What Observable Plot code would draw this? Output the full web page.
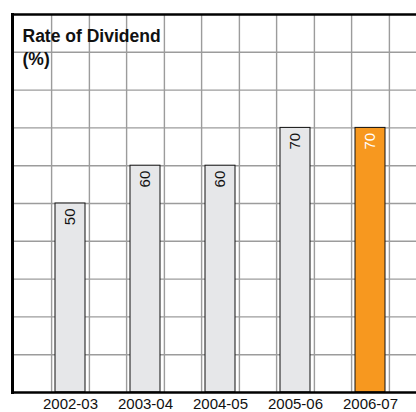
<!DOCTYPE html>
<html>
<head>
<meta charset="utf-8">
<script src="https://cdn.jsdelivr.net/npm/d3@7"></script>
<script src="https://cdn.jsdelivr.net/npm/@observablehq/plot@0.6"></script>
<style>
  html, body { margin: 0; padding: 0; background: #fff; }
  #chart svg { display: block; }
</style>
</head>
<body>
<div id="chart"></div>
<script>
const years = ["2002-03", "2003-04", "2004-05", "2005-06", "2006-07"];
const dividends = [50, 60, 60, 70, 70];
const highlight = [false, false, false, false, true];
const gridValues = [10, 20, 30, 40, 50, 60, 70, 80, 90];
const title = "Rate of Dividend\n(%)";

const data = years.map((y, i) => ({year: y, value: dividends[i], hi: highlight[i]}));

const font = "'Liberation Sans', Arial, Helvetica, sans-serif";
const gridColor = "#9c9c9c";

const chart = Plot.plot({
  width: 416,
  height: 412,
  marginTop: 14,
  marginBottom: 20,
  marginLeft: 12,
  marginRight: 0,
  style: {fontFamily: font, background: "#fff", overflow: "visible"},
  x: {type: "band", domain: years, range: [31.2, 409.2], paddingInner: 0.597, paddingOuter: 0.2985, align: 0.5, axis: null},
  y: {domain: [0, 100], axis: null},
  marks: [
    Plot.ruleY(gridValues, {stroke: gridColor, strokeWidth: 1.4}),
    Plot.ruleX(years, {x: d => d, dx: -18.9, stroke: gridColor, strokeWidth: 1.4}),
    Plot.ruleX(years, {x: d => d, dx: 18.9, stroke: gridColor, strokeWidth: 1.4}),
    Plot.barY(data, {x: "year", y: "value", fill: d => d.hi ? "#f7981f" : "#e6e7e9", stroke: "#111", strokeWidth: 1}),
    Plot.text(data, {x: "year", y: "value", text: d => String(d.value), rotate: -90, textAnchor: "end", dy: 5, fontSize: 15, fill: d => d.hi ? "#fff" : "#111"}),
    Plot.ruleY([100], {stroke: "#000", strokeWidth: 2.6}),
    Plot.ruleY([0], {stroke: "#000", strokeWidth: 2.6}),
    Plot.frame({anchor: "left", stroke: "#000", strokeWidth: 3}),
    Plot.text([title], {frameAnchor: "top-left", dx: 10, dy: 10.5, lineAnchor: "top", lineHeight: 1.35, fontSize: 17.5, fontWeight: "bold", fill: "#111"}),
    Plot.text(years, {x: d => d, frameAnchor: "bottom", dy: 16.5, lineAnchor: "bottom", fontSize: 15, fill: "#111"})
  ]
});
document.getElementById("chart").append(chart);
</script>
</body>
</html>
